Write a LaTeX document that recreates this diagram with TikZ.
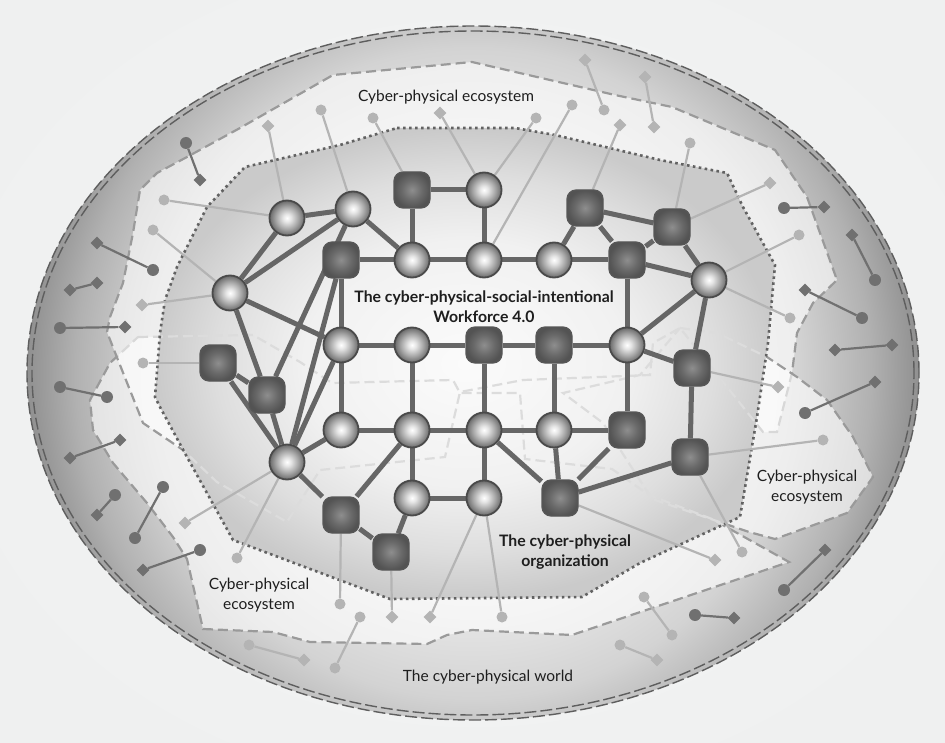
\documentclass[tikz,border=0pt]{standalone}
\usepackage{fontspec}
\setmainfont{Lato}
\usetikzlibrary{shapes.geometric}

\definecolor{bggray}{HTML}{EFF0F0}
\definecolor{bgglow}{HTML}{F6F7F7}
\definecolor{rimgray}{HTML}{5E5E5E}
\definecolor{ecogray}{HTML}{9A9A9A}
\definecolor{ecolite}{HTML}{DCDCDC}
\definecolor{orgdots}{HTML}{626262}
\definecolor{linkgray}{HTML}{666666}
\definecolor{spokegray}{HTML}{B4B4B4}
\definecolor{bargray}{HTML}{707070}
\definecolor{labelgray}{HTML}{1E1E1E}
\definecolor{orbrim}{HTML}{4A4A4A}
\definecolor{boxrim}{HTML}{575757}
% shading colours
\definecolor{wA}{HTML}{F8F8F8}
\definecolor{wB}{HTML}{EBEBEB}
\definecolor{wC}{HTML}{D3D3D3}
\definecolor{wD}{HTML}{B1B1B1}
\definecolor{wE}{HTML}{8C8C8C}
\definecolor{oA}{HTML}{FBFBFB}
\definecolor{oB}{HTML}{F1F1F1}
\definecolor{oC}{HTML}{DEDEDE}
\definecolor{oD}{HTML}{CACACA}
\definecolor{sA}{HTML}{FFFFFF}
\definecolor{sB}{HTML}{E4E4E4}
\definecolor{sC}{HTML}{A6A6A6}
\definecolor{sD}{HTML}{777777}
\definecolor{sE}{HTML}{676767}
\definecolor{qA}{HTML}{8E8E8E}
\definecolor{qB}{HTML}{6A6A6A}
\definecolor{qC}{HTML}{535353}

\pgfdeclareradialshading{worldshade}{\pgfpoint{0bp}{0bp}}{color(0bp)=(wA); color(12bp)=(wB); color(18bp)=(wC); color(22bp)=(wD); color(25bp)=(wE); color(50bp)=(wE)}
\pgfdeclareradialshading{orgshade}{\pgfpoint{0bp}{0bp}}{color(0bp)=(oA); color(13bp)=(oB); color(20bp)=(oC); color(25bp)=(oD); color(50bp)=(oD)}
\pgfdeclareradialshading{orbshade}{\pgfpoint{0bp}{0bp}}{color(0bp)=(sA); color(6bp)=(sB); color(16bp)=(sC); color(23bp)=(sD); color(25bp)=(sE); color(50bp)=(sE)}
\pgfdeclareradialshading{boxshade}{\pgfpoint{0bp}{0bp}}{color(0bp)=(qA); color(14bp)=(qB); color(25bp)=(qC); color(50bp)=(qC)}

\pgfdeclarelayer{bottom}
\pgfdeclarelayer{back}
\pgfsetlayers{bottom,back,main}

\tikzset{
  orb/.style={circle, minimum size=35pt, inner sep=0pt, draw=orbrim, line width=1.8pt, shade, shading=orbshade},
  box/.style={rectangle, rounded corners=9pt, minimum size=36pt, inner sep=0pt, draw=boxrim, line width=1.2pt, shade, shading=boxshade},
  link/.style={draw=linkgray, line width=5pt},
  spoke/.style={draw=spokegray, line width=2.2pt},
  bar/.style={draw=bargray, line width=2.2pt},
  ldot/.style={circle, fill=spokegray, inner sep=0pt, minimum size=11pt},
  ldia/.style={diamond, fill=spokegray, inner sep=0pt, minimum size=13pt},
  ddot/.style={circle, fill=bargray, inner sep=0pt, minimum size=12pt},
  ddia/.style={diamond, fill=bargray, inner sep=0pt, minimum size=13pt},
  eco/.style={draw=ecogray, line width=2.2pt, dash pattern=on 10pt off 5pt, fill=white, fill opacity=0.62},
  ecofaint/.style={draw=ecolite, line width=2.2pt, dash pattern=on 10pt off 5pt},
  orgline/.style={draw=orgdots, line width=2.6pt, dash pattern=on 2.6pt off 3.4pt},
  rim/.style={draw=rimgray, line width=1.4pt, dash pattern=on 12pt off 4pt},
  lbl/.style={text=labelgray, font=\fontsize{15.5}{20}\selectfont, align=center},
  lblbold/.style={lbl, font=\fontsize{15.8}{20}\selectfont\bfseries},
}

\newcommand\ecoleft{(138,337) -- (253,335) -- (300,362) -- (332,383) -- (453,380) -- (460,393) -- (520,393) -- (525,459) -- (612,469) -- (649,495) -- (712,519) -- (789,562) -- (572,635) -- (472,630) -- (447,635) -- (427,644) -- (310,642) -- (273,632) -- (203,629) -- (187,559) -- (173,537) -- (147,503) -- (113,463) -- (93,430) -- (90,400) -- (110,363) -- cycle}
\newcommand\ecotop{(118,360) -- (107,332) -- (110,317) -- (123,283) -- (133,233) -- (140,190) -- (157,173) -- (187,157) -- (240,128) -- (333,75) -- (472,62) -- (615,95) -- (672,107) -- (775,150) -- (807,197) -- (837,280) -- (813,303) -- (797,333) -- (792,373) -- (777,432) -- (763,432) -- (680,328) -- (653,343) -- (650,375) -- (523,380) -- (460,392) -- (445,457) -- (320,470) -- (287,522) -- (217,482) -- (183,450) -- (143,423) -- cycle}
\newcommand\ecoright{(680,328) -- (717,333) -- (767,357) -- (797,377) -- (827,400) -- (853,437) -- (873,477) -- (847,513) -- (775,539) -- (749,532) -- (652,499) -- (603,423) -- (563,393) -- (640,375) -- cycle}
\newcommand\orgshape{(397,128) -- (515,128) -- (555,135) -- (660,160) -- (727,173) -- (743,207) -- (775,265) -- (768,343) -- (757,417) -- (740,517) -- (640,563) -- (582,597) -- (390,599) -- (233,540) -- (187,457) -- (160,407) -- (155,397) -- (160,333) -- (165,300) -- (177,267) -- (207,207) -- (245,167) -- (340,145) -- cycle}

\begin{document}
\begin{tikzpicture}[x=1pt, y=-1pt]
\useasboundingbox (0,0) rectangle (945,743);

\begin{pgfonlayer}{bottom}
  \fill[bggray] (0,0) rectangle (945,743);
  \shade[inner color=bgglow, outer color=bggray] (473,373) ellipse [x radius=560pt, y radius=450pt];
  % the world
  \begin{scope}
    \clip (473,373) ellipse [x radius=446pt, y radius=347pt];
    \shade[shading=worldshade] (473,373) circle [radius=452pt];
  \end{scope}
  % ecosystems
  \path[eco] \ecoleft;
  \path[eco] \ecotop;
  \path[eco] \ecoright;
  % organization
  \shade[shading=orgshade] \orgshape;
  \begin{scope}
    \clip \orgshape;
    \draw[ecofaint] \ecoleft;
    \draw[ecofaint] \ecotop;
    \draw[ecofaint] \ecoright;
  \end{scope}
  \draw[orgline] \orgshape;
  \draw[rim] (473,373) ellipse [x radius=446pt, y radius=347pt];
  \draw[rim] (473,373) ellipse [x radius=441pt, y radius=342pt];
\end{pgfonlayer}

% workforce nodes
\node[orb] (a1) at (287,218) {};
\node[orb] (a2) at (353,209) {};
\node[orb] (a3) at (230,293) {};
\node[box] (t2) at (412,190) {};
\node[orb] (t3) at (484,190) {};
\node[box] (b1) at (341,260) {};
\node[orb] (b2) at (412,260) {};
\node[orb] (b3) at (484,260) {};
\node[orb] (b4) at (554,260) {};
\node[box] (b5) at (627,260) {};
\node[box] (q1) at (585,208) {};
\node[box] (q2) at (672,227) {};
\node[orb] (r1) at (709,280) {};
\node[orb] (c1) at (341,345) {};
\node[orb] (c2) at (412,345) {};
\node[box] (c3) at (484,345) {};
\node[box] (c4) at (554,345) {};
\node[orb] (c5) at (627,345) {};
\node[box] (r2) at (692,368) {};
\node[box] (l1) at (218,363) {};
\node[box] (l2) at (267,395) {};
\node[orb] (d1) at (341,430) {};
\node[orb] (d2) at (412,430) {};
\node[orb] (d3) at (484,430) {};
\node[orb] (d4) at (554,430) {};
\node[box] (d5) at (627,430) {};
\node[box] (r3) at (690,457) {};
\node[orb] (g1) at (287,462) {};
\node[orb] (e2) at (412,498) {};
\node[orb] (e3) at (484,498) {};
\node[box] (e4) at (560,498) {};
\node[box] (e1) at (341,515) {};
\node[box] (f1) at (391,552) {};

% spoke ends
\node[ldot] (a1p) at (164,200) {};
\node[ldia] (a1q) at (268,126) {};
\node[ldot] (a2p) at (321,110) {};
\node[ldot] (t2p) at (373,118) {};
\node[ldia] (t3p) at (440,113) {};
\node[ldot] (t3q) at (536,118) {};
\node[ldot] (b3p) at (572,105) {};
\node[ldia] (q1p) at (620,125) {};
\node[ldot] (q2p) at (690,143) {};
\node[ldia] (q2q) at (770,183) {};
\node[ldot] (r1p) at (799,235) {};
\node[ldot] (r1q) at (790,318) {};
\node[ldia] (r2p) at (778,387) {};
\node[ldot] (r3p) at (823,440) {};
\node[ldot] (r3q) at (742,552) {};
\node[ldia] (e4p) at (715,560) {};
\node[ldot] (a3p) at (153,230) {};
\node[ldia] (a3q) at (142,305) {};
\node[ldot] (l1p) at (143,363) {};
\node[ldia] (g1p) at (185,523) {};
\node[ldot] (g1q) at (237,558) {};
\node[ldot] (e1p) at (340,604) {};
\node[ldia] (f1p) at (392,617) {};
\node[ldia] (e3p) at (430,617) {};
\node[ldot] (e3q) at (502,617) {};

% loose things in the world
\node[ldia] (u1a) at (585,60) {};   \node[ldot] (u1b) at (604,110) {};
\node[ldia] (u2a) at (645,77) {};   \node[ldia] (u2b) at (654,127) {};
\node[ldot] (u3a) at (644,597) {};  \node[ldot] (u3b) at (672,635) {};
\node[ldot] (u4a) at (620,645) {};  \node[ldia] (u4b) at (657,660) {};
\node[ldot] (u5a) at (360,617) {};  \node[ldot] (u5b) at (335,668) {};
\node[ldot] (u6a) at (249,645) {};  \node[ldia] (u6b) at (304,660) {};
\node[ddot] (k1a) at (186,143) {};  \node[ddia] (k1b) at (200,180) {};
\node[ddia] (k2a) at (97,243) {};   \node[ddot] (k2b) at (153,270) {};
\node[ddia] (k3a) at (70,290) {};   \node[ddia] (k3b) at (97,283) {};
\node[ddot] (k4a) at (60,328) {};   \node[ddia] (k4b) at (125,327) {};
\node[ddot] (k5a) at (60,387) {};   \node[ddot] (k5b) at (107,397) {};
\node[ddia] (k6a) at (70,458) {};   \node[ddia] (k6b) at (120,440) {};
\node[ddia] (k7a) at (97,515) {};   \node[ddot] (k7b) at (115,495) {};
\node[ddot] (k8a) at (135,538) {};  \node[ddot] (k8b) at (163,487) {};
\node[ddia] (k9a) at (143,570) {};  \node[ddot] (k9b) at (200,550) {};
\node[ddot] (k10a) at (784,208) {}; \node[ddia] (k10b) at (824,207) {};
\node[ddia] (k11a) at (852,235) {}; \node[ddot] (k11b) at (875,280) {};
\node[ddia] (k12a) at (805,290) {}; \node[ddot] (k12b) at (862,318) {};
\node[ddia] (k13a) at (835,350) {}; \node[ddia] (k13b) at (892,345) {};
\node[ddot] (k14a) at (805,413) {}; \node[ddia] (k14b) at (875,382) {};
\node[ddot] (k15a) at (784,590) {}; \node[ddia] (k15b) at (825,550) {};
\node[ddot] (k16a) at (695,615) {}; \node[ddia] (k16b) at (734,618) {};

\begin{pgfonlayer}{back}
  % spokes
  \draw[spoke] (a1) -- (a1p);  \draw[spoke] (a1) -- (a1q);
  \draw[spoke] (a2) -- (a2p);  \draw[spoke] (t2) -- (t2p);
  \draw[spoke] (t3) -- (t3p);  \draw[spoke] (t3) -- (t3q);
  \draw[spoke] (b3) -- (b3p);  \draw[spoke] (q1) -- (q1p);
  \draw[spoke] (q2) -- (q2p);  \draw[spoke] (q2) -- (q2q);
  \draw[spoke] (r1) -- (r1p);  \draw[spoke] (r1) -- (r1q);
  \draw[spoke] (r2) -- (r2p);  \draw[spoke] (r3) -- (r3p);
  \draw[spoke] (r3) -- (r3q);  \draw[spoke] (e4) -- (e4p);
  \draw[spoke] (a3) -- (a3p);  \draw[spoke] (a3) -- (a3q);
  \draw[spoke] (l1) -- (l1p);  \draw[spoke] (g1) -- (g1p);
  \draw[spoke] (g1) -- (g1q);  \draw[spoke] (e1) -- (e1p);
  \draw[spoke] (f1) -- (f1p);  \draw[spoke] (e3) -- (e3p);
  \draw[spoke] (e3) -- (e3q);
  \draw[spoke] (u1a) -- (u1b); \draw[spoke] (u2a) -- (u2b);
  \draw[spoke] (u3a) -- (u3b); \draw[spoke] (u4a) -- (u4b);
  \draw[spoke] (u5a) -- (u5b); \draw[spoke] (u6a) -- (u6b);
  \draw[bar] (k1a) -- (k1b);   \draw[bar] (k2a) -- (k2b);
  \draw[bar] (k3a) -- (k3b);   \draw[bar] (k4a) -- (k4b);
  \draw[bar] (k5a) -- (k5b);   \draw[bar] (k6a) -- (k6b);
  \draw[bar] (k7a) -- (k7b);   \draw[bar] (k8a) -- (k8b);
  \draw[bar] (k9a) -- (k9b);   \draw[bar] (k10a) -- (k10b);
  \draw[bar] (k11a) -- (k11b); \draw[bar] (k12a) -- (k12b);
  \draw[bar] (k13a) -- (k13b); \draw[bar] (k14a) -- (k14b);
  \draw[bar] (k15a) -- (k15b); \draw[bar] (k16a) -- (k16b);
  % links
  \draw[link] (a1) -- (a2);  \draw[link] (a1) -- (a3);
  \draw[link] (a2) -- (a3);  \draw[link] (a2) -- (b2);
  \draw[link] (a2) -- (l2);  \draw[link] (a3) -- (c1);
  \draw[link] (a3) -- (l2);  \draw[link] (t2) -- (t3);
  \draw[link] (t2) -- (b2);  \draw[link] (t3) -- (b3);
  \draw[link] (b1) -- (b2) -- (b3) -- (b4) -- (b5);
  \draw[link] (b4) -- (q1);  \draw[link] (q1) -- (q2);
  \draw[link] (q1) -- (b5);  \draw[link] (q2) -- (b5);
  \draw[link] (q2) -- (r1);  \draw[link] (b5) -- (r1);
  \draw[link] (b5) -- (c5);  \draw[link] (r1) -- (c5);
  \draw[link] (r1) -- (r2);  \draw[link] (c5) -- (r2);
  \draw[link] (r2) -- (r3);  \draw[link] (r3) -- (e4);
  \draw[link] (b1) -- (c1);  \draw[link] (b1) -- (g1);
  \draw[link] (c1) -- (c2) -- (c3) -- (c4) -- (c5);
  \draw[link] (c1) -- (d1);  \draw[link] (c2) -- (d2);
  \draw[link] (c3) -- (d3);  \draw[link] (c4) -- (d4);
  \draw[link] (c5) -- (d5);
  \draw[link] (d1) -- (d2) -- (d3) -- (d4) -- (d5);
  \draw[link] (d2) -- (e2);  \draw[link] (d3) -- (e3);
  \draw[link] (e2) -- (e3);  \draw[link] (d3) -- (e4);
  \draw[link] (d4) -- (e4);  \draw[link] (d5) -- (e4);
  \draw[link] (d2) -- (e1);  \draw[link] (e1) -- (f1);
  \draw[link] (f1) -- (e2);  \draw[link] (g1) -- (d1);
  \draw[link] (g1) -- (c1);  \draw[link] (g1) -- (e1);
  \draw[link] (g1) -- (l1);  \draw[link] (g1) -- (l2);
  \draw[link] (l1) -- (l2);
\end{pgfonlayer}

% labels
\node[lbl] (ecotoplbl) at (446,97) {Cyber-physical ecosystem};
\node[lbl] (ecorightlbl) at (807,487) {Cyber-physical\\ecosystem};
\node[lbl] (ecoleftlbl) at (259,595) {Cyber-physical\\ecosystem};
\node[lbl] (worldlbl) at (488,677) {The cyber-physical world};
\node[lblbold] (wflbl) at (484,307) {The cyber-physical-social-intentional\\Workforce 4.0};
\node[lblbold] (orglbl) at (565,552) {The cyber-physical\\organization};
\end{tikzpicture}
\end{document}
